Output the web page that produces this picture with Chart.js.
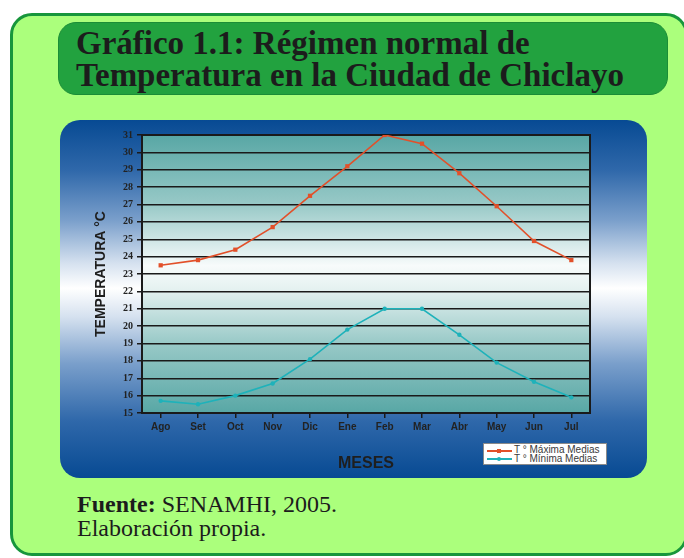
<!DOCTYPE html>
<html>
<head>
<meta charset="utf-8">
<script src="https://cdn.jsdelivr.net/npm/chart.js@4/dist/chart.umd.min.js"></script>
<style>
  html, body { margin: 0; padding: 0; background: #ffffff; width: 684px; height: 558px; overflow: hidden; }
  #outer { position: absolute; left: 10px; top: 13px; width: 678px; height: 543px; box-sizing: border-box;
           border: 3px solid #17963c; border-radius: 22px; background: #abff7c; }
  #titlebox { position: absolute; left: 58px; top: 22px; width: 610px; height: 73px; box-sizing: border-box;
              border: 1px solid #1b8d37; border-radius: 18px; background: #22a23f; }
  #title { position: absolute; left: 76px; top: 27px; font-family: "Liberation Serif", "Times New Roman", serif;
           font-weight: bold; font-size: 33px; line-height: 32px; color: #1c1c1c; white-space: nowrap; }
  #panel { position: absolute; left: 60px; top: 120px; width: 587px; height: 358px; border-radius: 20px; overflow: hidden;
           background: linear-gradient(to bottom, #074a93 0%, #2f68aa 14%, #7a9fcb 28%, #d5e1ef 40%, #ffffff 47%, #d5e1ef 55%, #7a9fcb 68%, #2f68aa 84%, #074a93 100%); }
  #chartwrap { position: absolute; left: 60px; top: 120px; width: 587px; height: 358px; }
  #legend { position: absolute; left: 483px; top: 443px; width: 124px; height: 22px; box-sizing: border-box;
            background: #ffffff; border: 1px solid #8a8a8a; font-family: "Liberation Sans", Arial, sans-serif;
            font-size: 10px; color: #3a3a3a; }
  .lg { position: absolute; left: 30px; white-space: nowrap; line-height: 10px; }
  .smp { position: absolute; left: 3px; width: 25px; height: 2px; }
  .mk { position: absolute; }
  #footer { position: absolute; left: 77px; top: 492px; font-family: "Liberation Serif", "Times New Roman", serif;
            font-size: 24px; line-height: 24px; color: #1c1c1c; white-space: nowrap; }
</style>
</head>
<body>
<div id="outer"></div>
<div id="titlebox"></div>
<div id="title">Gráfico 1.1: Régimen normal de<br>Temperatura en la Ciudad de Chiclayo</div>
<div id="panel"></div>
<div id="chartwrap"><canvas id="c" width="587" height="358"></canvas></div>
<div id="legend">
  <div class="smp" style="top:6px;background:#e2502a;"></div>
  <div class="mk" style="top:5px;left:13px;width:4px;height:4px;background:#e2502a;"></div>
  <div class="lg" style="top:1px;">T ° Máxima Medias</div>
  <div class="smp" style="top:14px;background:#1eb2ba;"></div>
  <div class="mk" style="top:13px;left:13px;width:4px;height:4px;border-radius:2px;background:#1eb2ba;"></div>
  <div class="lg" style="top:10px;">T ° Mínima Medias</div>
</div>
<div id="footer"><b>Fuente:</b> SENAMHI, 2005.<br>Elaboración propia.</div>
<script>
const months = ["Ago", "Set", "Oct", "Nov", "Dic", "Ene", "Feb", "Mar", "Abr", "May", "Jun", "Jul"];
const tempMax = [23.5, 23.8, 24.4, 25.7, 27.5, 29.2, 31.0, 30.5, 28.8, 26.9, 24.9, 23.8];
const tempMin = [15.7, 15.5, 16.0, 16.7, 18.1, 19.8, 21.0, 21.0, 19.5, 17.9, 16.8, 15.9];
const seriesNames = ["T ° Máxima Medias", "T ° Mínima Medias"];
const yMin = 15, yMax = 31;

const plotBg = {
  id: 'plotBg',
  beforeDraw(chart) {
    const {ctx, chartArea: a} = chart;
    const g = ctx.createLinearGradient(0, a.top, 0, a.bottom);
    g.addColorStop(0, '#58a7a5');
    g.addColorStop(0.25, '#98c9c7');
    g.addColorStop(0.47, '#f7fbfb');
    g.addColorStop(0.55, '#e6f2f1');
    g.addColorStop(0.75, '#98c9c7');
    g.addColorStop(1, '#58a7a5');
    ctx.save();
    ctx.fillStyle = g;
    ctx.fillRect(a.left, a.top, a.right - a.left, a.bottom - a.top);
    ctx.restore();
  },
  beforeDatasetsDraw(chart) {
    const {ctx, chartArea: a} = chart;
    ctx.save();
    ctx.strokeStyle = '#1a1a1a';
    ctx.lineWidth = 2;
    ctx.strokeRect(a.left, a.top, a.right - a.left, a.bottom - a.top);
    ctx.restore();
  }
};

new Chart(document.getElementById('c'), {
  type: 'line',
  data: {
    labels: months,
    datasets: [
      { label: seriesNames[0], data: tempMax, borderColor: '#e2502a', backgroundColor: '#e2502a',
        borderWidth: 1.6, pointStyle: 'rect', pointRadius: 3, pointBorderWidth: 0, tension: 0 },
      { label: seriesNames[1], data: tempMin, borderColor: '#1eb2ba', backgroundColor: '#1eb2ba',
        borderWidth: 1.6, pointStyle: 'circle', pointRadius: 2.2, pointBorderWidth: 0, tension: 0 }
    ]
  },
  options: {
    responsive: false,
    animation: false,
    devicePixelRatio: 1,
    layout: { padding: { top: 15, right: 57, left: 0, bottom: 0 } },
    plugins: { legend: { display: false }, tooltip: { enabled: false } },
    scales: {
      x: {
        offset: true,
        afterFit(s) { s.height = 65; },
        grid: { display: true, drawOnChartArea: false, drawTicks: true, tickLength: 5, color: '#1a1a1a', lineWidth: 1.5 },
        border: { display: true, color: '#1a1a1a', width: 2 },
        ticks: { color: '#222', padding: 3, font: { family: '"Liberation Sans", Arial, sans-serif', size: 10, weight: 'bold' } },
        title: { display: true, text: 'MESES', color: '#1e1e1e', padding: { top: 0, bottom: 5 },
                 font: { family: '"Liberation Sans", Arial, sans-serif', size: 16, weight: 'bold' } }
      },
      y: {
        min: yMin, max: yMax,
        afterFit(s) { s.width = 82; },
        grid: { display: true, drawTicks: true, tickLength: 5, color: '#1a1a1a', lineWidth: 1.5 },
        border: { display: true, color: '#1a1a1a', width: 2 },
        ticks: { stepSize: 1, color: '#222', padding: 4, font: { family: '"Liberation Serif", "Times New Roman", serif', size: 10, weight: 'bold' } },
        title: { display: true, text: 'TEMPERATURA °C', color: '#1e1e1e', padding: { top: 33, bottom: 0 },
                 font: { family: '"Liberation Sans", Arial, sans-serif', size: 14, weight: 'bold' } }
      }
    }
  },
  plugins: [plotBg]
});
</script>
</body>
</html>
